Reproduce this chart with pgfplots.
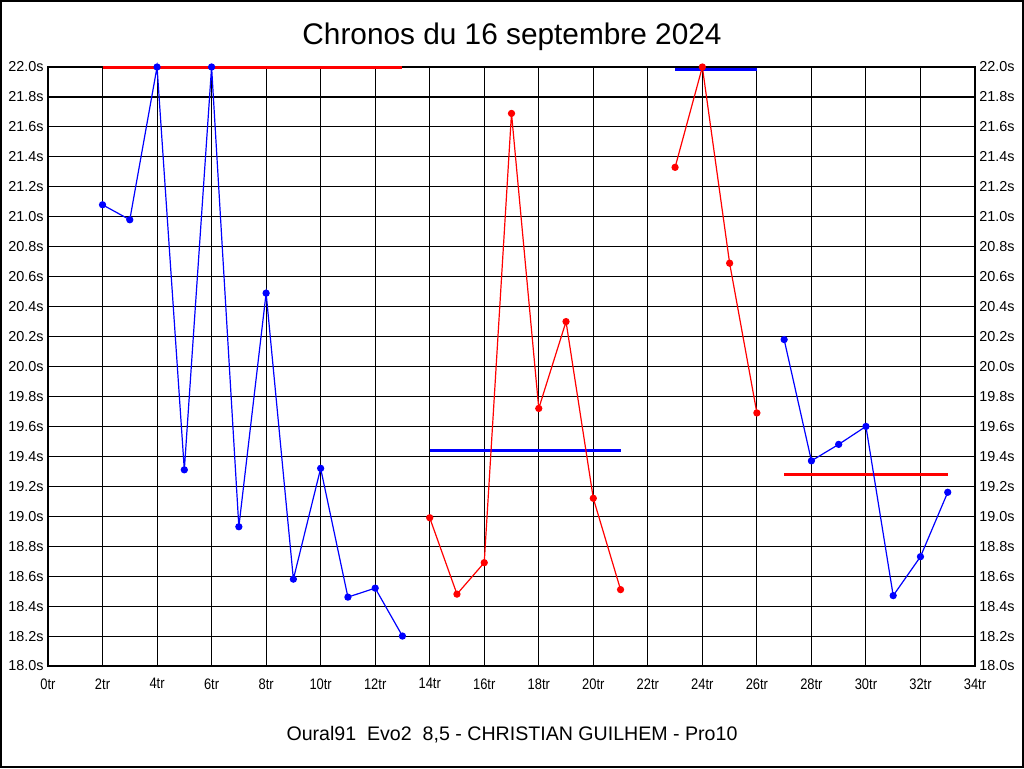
\documentclass[border=0pt]{standalone}
\usepackage{fontspec}
\setmainfont{Liberation Sans}
\newfontfamily\narrowfont[FakeStretch=0.85]{Liberation Sans}
\usepackage{pgfplots}
\pgfplotsset{compat=1.18}
\definecolor{pblue}{RGB}{0,0,255}
\definecolor{pred}{RGB}{255,0,0}
\begin{document}
\begin{tikzpicture}[x=1pt,y=1pt]
\draw[line width=1pt] (0.5,0.5) rectangle (511.5,383.5);
\node[font=\fontsize{14.9}{18}\selectfont] at (256,365.5) {Chronos du 16 septembre 2024};
\node[font=\fontsize{9.8}{12}\selectfont] at (256,16.5) {Oural91\ \ Evo2\ \ 8,5 - CHRISTIAN GUILHEM - Pro10};
\pgfplotsset{
  base/.style={
    scale only axis, width=463.5pt, height=299.5pt,
    at={(24pt,51pt)}, anchor=south west,
    xmin=0, xmax=34, ymin=18, ymax=22,
    xtick={0,2,...,34}, ytick={18,18.2,...,22.01},
    /pgf/number format/assume math mode=true,
    major tick length=0pt,
    axis line style={line width=0.55pt},
  }
}
\begin{axis}[base,
  grid=major, major grid style={black, line width=0.55pt},
  xticklabel={\pgfmathprintnumber{\tick}tr},
  yticklabel={\pgfmathprintnumber[fixed,fixed zerofill,precision=1]{\tick}s},
  xticklabel style={font=\narrowfont\fontsize{7.6}{8}\selectfont, inner sep=0pt, yshift=-6pt},
  yticklabel style={font=\fontsize{7.2}{8}\selectfont, inner sep=0pt, xshift=-2pt},
  clip=false,
]
% mean lines
\addplot[pred, line width=1.5pt] coordinates {(2,22.0) (13,22.0)};
\addplot[pblue, line width=1.5pt] coordinates {(14,19.44) (21,19.44)};
\addplot[pblue, line width=1.5pt] coordinates {(23,21.985) (26,21.985)};
\addplot[pred, line width=1.5pt] coordinates {(27,19.28) (33,19.28)};
% series
\addplot[pblue, line width=0.6pt, mark=*, mark size=1.5pt] coordinates {
(2,21.08) (3,20.98) (4,22.0) (5,19.31) (6,22.0) (7,18.93) (8,20.49) (9,18.58) (10,19.32) (11,18.46) (12,18.52) (13,18.20)};
\addplot[pred, line width=0.6pt, mark=*, mark size=1.5pt] coordinates {
(14,18.99) (15,18.48) (16,18.69) (17,21.69) (18,19.72) (19,20.30) (20,19.12) (21,18.51)};
\addplot[pred, line width=0.6pt, mark=*, mark size=1.5pt] coordinates {
(23,21.33) (24,22.0) (25,20.69) (26,19.69)};
\addplot[pblue, line width=0.6pt, mark=*, mark size=1.5pt] coordinates {
(27,20.18) (28,19.37) (29,19.48) (30,19.60) (31,18.47) (32,18.73) (33,19.16)};
\end{axis}
\begin{axis}[base,
  axis line style={draw=none},
  xticklabels={}, 
  yticklabel pos=right,
  yticklabel={\pgfmathprintnumber[fixed,fixed zerofill,precision=1]{\tick}s},
  yticklabel style={font=\fontsize{7.2}{8}\selectfont, inner sep=0pt, xshift=2pt},
]
\addplot[draw=none] coordinates {(0,18) (34,22)};
\end{axis}
\end{tikzpicture}
\end{document}
